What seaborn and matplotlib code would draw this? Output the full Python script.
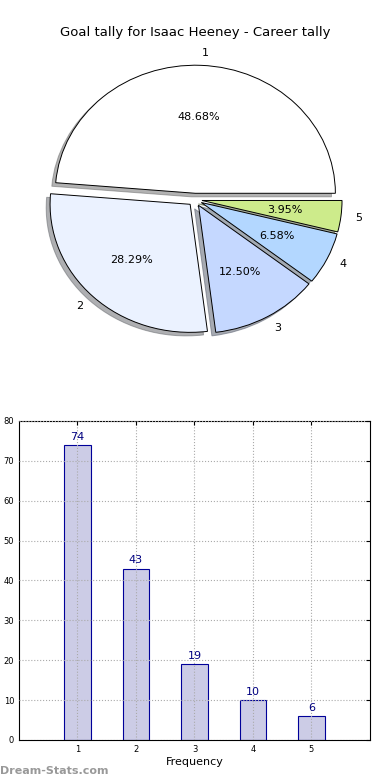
import matplotlib
matplotlib.use("Agg")
import matplotlib.pyplot as plt
import seaborn as sns
import pandas as pd

goals = [1, 2, 3, 4, 5]
frequency = [74, 43, 19, 10, 6]
pie_labels = ["1", "2", "3", "4", "5"]
pie_colors = ["#FFFFFF", "#EBF2FF", "#C5D8FF", "#B3D7FF", "#CDEB8B"]
title = "Goal tally for Isaac Heeney - Career tally"

sns.set_style("white")
plt.rcParams["font.family"] = ["DejaVu Sans"]
plt.rcParams["text.color"] = "black"
plt.rcParams["xtick.color"] = "black"
plt.rcParams["ytick.color"] = "black"
plt.rcParams["axes.labelcolor"] = "black"

fig = plt.figure(figsize=(3.9, 7.8), dpi=100)

# Pie
axp = fig.add_axes([0.069, 0.547, 0.862, 0.394])
wedges, texts, autotexts = axp.pie(
    frequency, labels=pie_labels, colors=pie_colors, explode=[0.05] * 5,
    autopct="%1.2f%%", shadow={"ox": -0.02, "oy": -0.02, "shade": 0.6},
    startangle=0, labeldistance=1.1, pctdistance=0.6,
    wedgeprops={"edgecolor": "black", "linewidth": 0.7},
    textprops={"fontsize": 8, "color": "black"}, radius=1.0)
axp.set_aspect("auto")
axp.set_xlim(-1.2, 1.2)
axp.set_ylim(-1.2, 1.2)
axp.set_title(title, fontsize=9.5, pad=7, color="black")

# Bars
axb = fig.add_axes([0.0487, 0.0513, 0.9, 0.409])
df = pd.DataFrame({"goals": goals, "frequency": frequency})
sns.barplot(data=df, x="goals", y="frequency", native_scale=True, width=0.45,
            color="#CCCCE6", edgecolor="#000099", linewidth=0.8, saturation=1,
            ax=axb, zorder=1)
for g, f in zip(goals, frequency):
    axb.text(g, f + 0.8, str(f), ha="center", va="bottom", fontsize=8, color="#000080")
axb.set_xlim(0, 6)
axb.set_ylim(0, 80)
axb.set_xticks(goals)
axb.set_yticks(range(0, 81, 10))
axb.tick_params(axis="both", labelsize=6, direction="in", top=True, right=True, length=3)
axb.grid(True, linestyle=":", color="#AAAAAA", linewidth=0.8)
axb.set_axisbelow(False)
for s in axb.spines.values():
    s.set_color("black")
    s.set_linewidth(0.8)
axb.set_xlabel("Frequency", fontsize=8, labelpad=2)
axb.set_ylabel("")

fig.text(0.0, 0.005, "Dream-Stats.com", fontsize=8, color="#999999", fontweight="bold",
         ha="left", va="bottom")

fig.savefig("out.png", dpi=100)
